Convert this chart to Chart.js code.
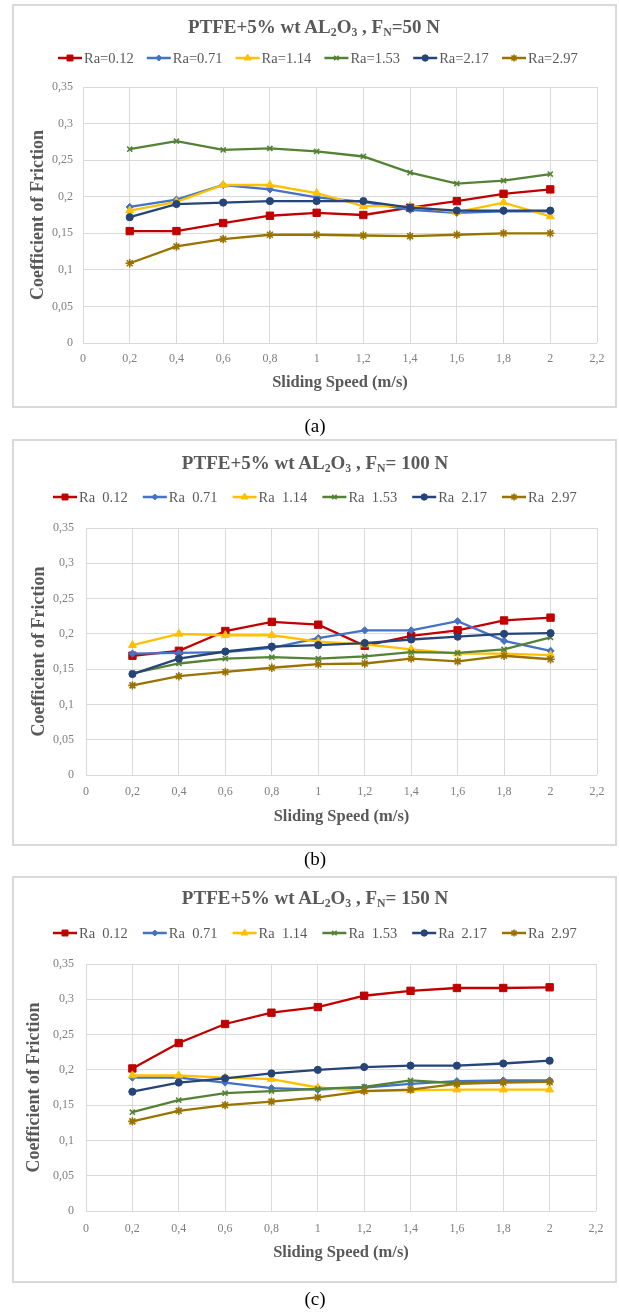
<!DOCTYPE html>
<html><head><meta charset="utf-8">
<script src="https://cdn.jsdelivr.net/npm/chart.js@4.4.1/dist/chart.umd.min.js"></script>
<style>
html,body{margin:0;padding:0;background:#fff;}
body{width:619px;height:1313px;position:relative;overflow:hidden;font-family:"Liberation Serif","Times New Roman",serif;}
.box{position:absolute;left:12px;width:605px;border:2px solid #d9d9d9;box-sizing:border-box;}
canvas{position:absolute;left:0;}
.title{position:absolute;left:0;text-align:center;font-weight:bold;font-size:19px;color:#595959;line-height:19px;height:19px;white-space:pre;}
.title sub{font-size:0.62em;vertical-align:-0.28em;line-height:0;}
.cap{position:absolute;left:0;width:630px;text-align:center;font-size:19px;line-height:19px;color:#000;}
</style></head><body>
<div class="box" style="top:4px;height:404px"></div>
<div class="box" style="top:439px;height:407px"></div>
<div class="box" style="top:876px;height:407px"></div>
<canvas id="ca" width="619" height="420" style="top:0px"></canvas>
<canvas id="cb" width="619" height="420" style="top:436px"></canvas>
<canvas id="cc" width="619" height="430" style="top:868px"></canvas>
<div class="title" style="top:17px;width:628px">PTFE+5% wt AL<sub>2</sub>O<sub>3</sub> , F<sub>N</sub>=50 N</div>
<div class="title" style="top:453px;width:630px">PTFE+5% wt AL<sub>2</sub>O<sub>3</sub> , F<sub>N</sub>= 100 N</div>
<div class="title" style="top:888px;width:630px">PTFE+5% wt AL<sub>2</sub>O<sub>3</sub> , F<sub>N</sub>= 150 N</div>
<div class="cap" style="top:416px">(a)</div>
<div class="cap" style="top:849px">(b)</div>
<div class="cap" style="top:1289px">(c)</div>
<script>
// ---- data ----
const speeds = [0.2, 0.4, 0.6, 0.8, 1.0, 1.2, 1.4, 1.6, 1.8, 2.0];
const labelsA = ['Ra=0.12', 'Ra=0.71', 'Ra=1.14', 'Ra=1.53', 'Ra=2.17', 'Ra=2.97'];
const labelsBC = ['Ra  0.12', 'Ra  0.71', 'Ra  1.14', 'Ra  1.53', 'Ra  2.17', 'Ra  2.97'];
const xTicks = [0, 0.2, 0.4, 0.6, 0.8, 1, 1.2, 1.4, 1.6, 1.8, 2, 2.2];
const yTicks = [0, 0.05, 0.1, 0.15, 0.2, 0.25, 0.3, 0.35];

// F_N = 50 N
const a012 = [0.153, 0.153, 0.164, 0.174, 0.178, 0.175, 0.185, 0.194, 0.204, 0.210];
const a071 = [0.186, 0.196, 0.216, 0.210, 0.199, 0.193, 0.182, 0.178, 0.180, 0.180];
const a114 = [0.181, 0.193, 0.216, 0.216, 0.205, 0.187, 0.187, 0.179, 0.192, 0.173];
const a153 = [0.265, 0.276, 0.264, 0.266, 0.262, 0.255, 0.233, 0.218, 0.222, 0.231];
const a217 = [0.172, 0.190, 0.192, 0.194, 0.194, 0.194, 0.185, 0.181, 0.181, 0.181];
const a297 = [0.109, 0.132, 0.142, 0.148, 0.148, 0.147, 0.146, 0.148, 0.150, 0.150];
// F_N = 100 N
const b012 = [0.169, 0.176, 0.204, 0.217, 0.213, 0.183, 0.197, 0.205, 0.219, 0.223];
const b071 = [0.172, 0.173, 0.174, 0.180, 0.194, 0.205, 0.205, 0.218, 0.190, 0.176];
const b114 = [0.184, 0.200, 0.198, 0.198, 0.189, 0.185, 0.178, 0.172, 0.172, 0.170];
const b153 = [0.144, 0.158, 0.165, 0.167, 0.165, 0.168, 0.174, 0.173, 0.178, 0.195];
const b217 = [0.143, 0.165, 0.175, 0.182, 0.184, 0.187, 0.192, 0.196, 0.200, 0.201];
const b297 = [0.127, 0.140, 0.146, 0.152, 0.157, 0.158, 0.165, 0.161, 0.169, 0.164];
// F_N = 150 N
const c012 = [0.202, 0.238, 0.265, 0.281, 0.289, 0.305, 0.312, 0.316, 0.316, 0.317];
const c071 = [0.189, 0.189, 0.182, 0.174, 0.172, 0.175, 0.180, 0.184, 0.185, 0.185];
const c114 = [0.192, 0.192, 0.189, 0.187, 0.175, 0.170, 0.171, 0.172, 0.172, 0.172];
const c153 = [0.140, 0.157, 0.167, 0.170, 0.173, 0.176, 0.185, 0.181, 0.183, 0.183];
const c217 = [0.169, 0.182, 0.188, 0.195, 0.200, 0.204, 0.206, 0.206, 0.209, 0.213];
const c297 = [0.127, 0.142, 0.150, 0.155, 0.161, 0.170, 0.172, 0.180, 0.182, 0.183];

// ---- styles ----
const colors = ['#C00000', '#4472C4', '#FFC000', '#548235', '#264478', '#997300'];
const styles = ['rect', 'rectRot', 'triangle', 'crossRot', 'circle', 'star'];
const radii = [5.2, 3.6, 4.6, 3.6, 3.6, 4.2];
const legendRadii = [4.2, 3.0, 4.0, 3.2, 3.2, 3.6];

const FAMILY = '"Liberation Serif", "Times New Roman", serif';
Chart.defaults.font.family = FAMILY;

function fmt(v) { return String(Math.round(v * 100) / 100).replace('.', ','); }

function fallbackPoint(ctx, style, r, x, y) {
  ctx.beginPath();
  if (style === 'circle') ctx.arc(x, y, r, 0, Math.PI * 2);
  else ctx.rect(x - r * 0.7, y - r * 0.7, r * 1.4, r * 1.4);
  ctx.fill(); ctx.stroke();
}

const lineLegend = {
  id: 'lineLegend',
  afterDraw(chart, args, opts) {
    const ctx = chart.ctx;
    ctx.save();
    chart.data.datasets.forEach((ds, i) => {
      const x0 = opts.x + i * opts.pitch;
      const y = opts.y;
      ctx.strokeStyle = ds.borderColor;
      ctx.lineWidth = 2.5;
      ctx.beginPath(); ctx.moveTo(x0, y); ctx.lineTo(x0 + 24, y); ctx.stroke();
      ctx.fillStyle = ds.pointBackgroundColor;
      ctx.strokeStyle = ds.pointBorderColor;
      ctx.lineWidth = ds.pointBorderWidth;
      if (Chart.helpers && Chart.helpers.drawPoint) {
        Chart.helpers.drawPoint(ctx, {pointStyle: ds.pointStyle, radius: legendRadii[i], borderWidth: ds.pointBorderWidth, rotation: 0}, x0 + 12, y);
      } else {
        fallbackPoint(ctx, ds.pointStyle, legendRadii[i], x0 + 12, y);
      }
      ctx.fillStyle = '#595959';
      ctx.font = '14.5px ' + FAMILY;
      ctx.textBaseline = 'middle';
      ctx.textAlign = 'left';
      ctx.fillText(ds.label, x0 + 26, y + 1);
    });
    ctx.restore();
  }
};

function makeChart(id, labels, series, p) {
  const datasets = series.map((vals, i) => ({
    label: labels[i],
    data: speeds.map((s, k) => ({x: s, y: vals[k]})),
    borderColor: colors[i],
    backgroundColor: colors[i],
    pointBackgroundColor: colors[i],
    pointBorderColor: colors[i],
    pointStyle: styles[i],
    pointRadius: radii[i],
    pointBorderWidth: (styles[i] === 'crossRot' || styles[i] === 'star') ? 1.6 : 1,
    borderWidth: 2.3,
    tension: 0,
    fill: false,
    order: 6 - i
  }));
  return new Chart(document.getElementById(id), {
    type: 'line',
    data: {datasets},
    plugins: [lineLegend],
    options: {
      responsive: false,
      animation: false,
      devicePixelRatio: 1,
      layout: {padding: p.padding},
      plugins: {
        legend: {display: false},
        tooltip: {enabled: false},
        lineLegend: p.legend
      },
      scales: {
        x: {
          type: 'linear',
          min: xTicks[0], max: xTicks[xTicks.length - 1],
          afterBuildTicks: (s) => { s.ticks = xTicks.map(v => ({value: v})); },
          afterFit: (s) => { s.height = p.xH; },
          ticks: {callback: fmt, color: '#7f7f7f', font: {size: 12}, padding: p.xTickPad, maxRotation: 0, autoSkip: false},
          grid: {color: '#d9d9d9', lineWidth: 1, drawTicks: false},
          border: {display: false},
          title: {display: true, text: 'Sliding Speed (m/s)', color: '#595959', font: {size: 16.5, weight: 'bold'}, padding: {top: 0, bottom: p.xTitleOff - 9.9}}
        },
        y: {
          type: 'linear',
          min: yTicks[0], max: yTicks[yTicks.length - 1],
          afterBuildTicks: (s) => { s.ticks = yTicks.map(v => ({value: v})); },
          afterFit: (s) => { s.width = p.yW; },
          ticks: {callback: fmt, color: '#7f7f7f', font: {size: 12}, padding: p.yTickPad},
          grid: {color: '#d9d9d9', lineWidth: 1, drawTicks: false},
          border: {display: false},
          title: {display: true, text: 'Coefficient of Friction', color: '#595959', font: {size: 18, weight: 'bold'}, padding: {top: p.yTitleOff - 10.8, bottom: 0}}
        }
      }
    }
  });
}

makeChart('ca', labelsA, [a012, a071, a114, a153, a217, a297], {
  padding: {top: 87, left: 12, right: 22, bottom: 12},
  yW: 71, xH: 65, yTitleOff: 26, xTickPad: 9, yTickPad: 10, xTitleOff: 25,
  legend: {x: 58, y: 58, pitch: 88.8}
});
makeChart('cb', labelsBC, [b012, b071, b114, b153, b217, b297], {
  padding: {top: 92, left: 12, right: 22, bottom: 10},
  yW: 74, xH: 71, yTitleOff: 27, xTickPad: 10, yTickPad: 12, xTitleOff: 29,
  legend: {x: 53, y: 61, pitch: 89.8}
});
makeChart('cc', labelsBC, [c012, c071, c114, c153, c217, c297], {
  padding: {top: 96, left: 12, right: 23, bottom: 15},
  yW: 74, xH: 72, yTitleOff: 22, xTickPad: 11, yTickPad: 12, xTitleOff: 30,
  legend: {x: 53, y: 65, pitch: 89.8}
});
</script>
</body></html>
